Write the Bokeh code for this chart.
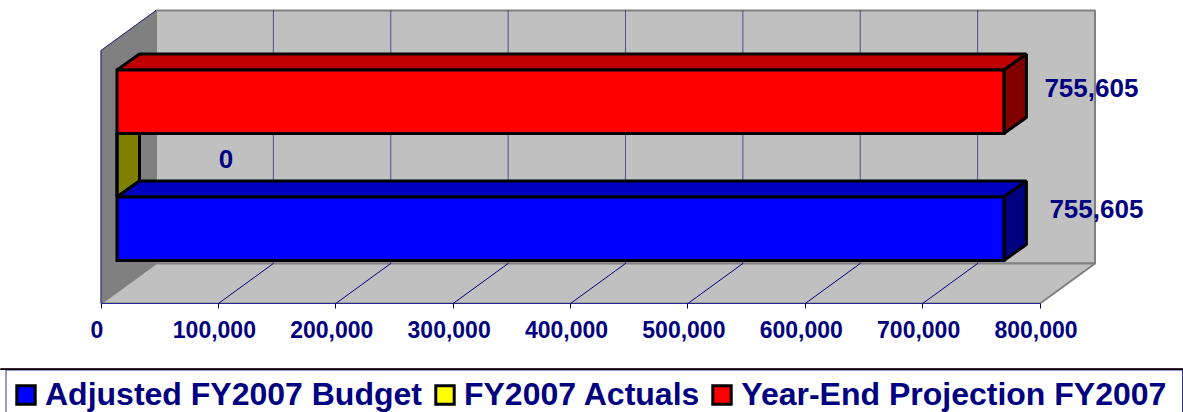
from bokeh.plotting import figure
from bokeh.layouts import column
from bokeh.models import Range1d, LinearAxis, FixedTicker, NumeralTickFormatter, Legend, LegendItem
from bokeh.core.properties import value
from bokeh.embed import file_html
from bokeh.resources import INLINE

series = ["Adjusted FY2007 Budget", "FY2007 Actuals", "Year-End Projection FY2007"]
values = [755605, 0, 755605]
labels = ["755,605", "0", "755,605"]
ticks = [0, 100000, 200000, 300000, 400000, 500000, 600000, 700000, 800000]

FONT = "Liberation Sans"
NAVY = "#000080"
PX = 1173.75 / 1000.0          # pixels per thousand of value
SLOT = 63.5                    # pixels per series slot

def dx(px):
    return px / PX * 1000.0

def dy(px):
    return px / SLOT

W, H, LEG_H = 1183, 412, 44
BOTTOM = 109 - LEG_H
X0, YB = 100.5, 260            # pixel of value 0, pixel of slot 0
p = figure(width=W, height=H - LEG_H, output_backend="svg", toolbar_location=None,
           x_axis_type=None, y_axis_type=None,
           x_range=Range1d(-dx(X0), dx(W - X0)),
           y_range=Range1d(-dy(43), dy(YB)),
           min_border_left=0, min_border_right=0, min_border_top=0, min_border_bottom=BOTTOM,
           background_fill_color="white", border_fill_color="white", outline_line_color=None)
p.grid.visible = False
p.extra_x_ranges["labels"] = Range1d(-dx(X0 - 4), dx(W - X0 + 4))

vmax = ticks[-1]
DX, DY = dx(55), dy(40)        # depth of the box
FY = -dy(43)                   # floor front
TOP = dy(YB - 50)              # front top of the wall
GREY = "#808080"

# walls
p.patch([0, DX, DX, 0], [TOP, TOP + DY, FY + DY, FY], fill_color=GREY, line_color=GREY, line_width=1)
p.patch([DX, vmax + DX, vmax + DX, DX], [TOP + DY, TOP + DY, FY + DY, FY + DY],
        fill_color="#c0c0c0", line_color=GREY, line_width=2)
p.patch([0, DX, vmax + DX, vmax], [FY, FY + DY, FY + DY, FY], fill_color="#c0c0c0", line_color=GREY, line_width=2)
p.line([0, 0, DX], [FY, TOP, TOP + DY], line_color=NAVY, line_width=1, line_alpha=0.75)

# gridlines
inner = ticks[1:-1]
p.segment([t + DX for t in inner], [FY + DY] * len(inner), [t + DX for t in inner], [TOP + DY] * len(inner),
          line_color=NAVY, line_width=1, line_alpha=0.6)
p.segment(inner, [FY] * len(inner), [t + DX for t in inner], [FY + DY] * len(inner),
          line_color=NAVY, line_width=1)

# 3D bars
FRONT = dx(16)
DBX, DBY = dx(22.5), dy(16)
face = ["#0000ff", "#ffff00", "#ff0000"]
tops = ["#0000c0", "#bfbf00", "#c00000"]
sides = ["#000080", "#808000", "#800000"]
EDGE = 3
for i in [2, 1, 0]:
    v = values[i] + FRONT
    y0, y1 = i, i + 1
    if values[i] == 0:
        # a zero-length bar shows only its end face
        p.patch([FRONT, FRONT + DBX, FRONT + DBX, FRONT], [y0, y0 + DBY, y1 + DBY, y1],
                fill_color=sides[i], line_color="black", line_width=EDGE)
    else:
        p.patch([FRONT, FRONT + DBX, v + DBX, v], [y1, y1 + DBY, y1 + DBY, y1],
                fill_color=tops[i], line_color="black", line_width=EDGE)
        p.patch([v, v + DBX, v + DBX, v], [y0, y0 + DBY, y1 + DBY, y1],
                fill_color=sides[i], line_color="black", line_width=EDGE)
for i in [0, 1, 2]:
    p.hbar(y=[i + 0.5], height=[1], left=[FRONT], right=[values[i] + FRONT],
           fill_color=face[i], line_color="black", line_width=EDGE, line_join="miter")

# value labels
off_x = [45.5, 109, 40.5]
off_y = [-20, -6.5, -14]
aligns = ["left", "center", "left"]
for i in range(3):
    p.text([values[i] + FRONT], [i + 0.5], text=[labels[i]], x_offset=off_x[i], y_offset=off_y[i],
           text_align=aligns[i], text_baseline="middle", text_color=NAVY,
           text_font=value(FONT), text_font_style="bold", text_font_size="26px")

axis = LinearAxis(ticker=FixedTicker(ticks=ticks), bounds=(0, vmax), axis_line_color=NAVY, axis_line_alpha=0.8,
                  axis_line_width=1, major_tick_line_color=NAVY, major_tick_in=0, major_tick_out=5,
                  minor_tick_line_color=None, major_label_overrides={t: "" for t in ticks},
                  major_label_text_font_size="1px", major_label_standoff=0)
p.add_layout(axis, "below")

label_axis = LinearAxis(x_range_name="labels", ticker=FixedTicker(ticks=ticks),
                        formatter=NumeralTickFormatter(format="0,0"),
                        axis_line_color=None, major_tick_line_color=None, minor_tick_line_color=None,
                        major_label_text_font=FONT, major_label_text_font_style="bold",
                        major_label_text_font_size="23px", major_label_text_color=NAVY, major_label_standoff=6)
p.add_layout(label_axis, "below")

# legend strip: its x and y ranges are the strip's own pixels
q = figure(width=W, height=LEG_H, output_backend="svg", toolbar_location=None,
           x_axis_type=None, y_axis_type=None, x_range=Range1d(0, W), y_range=Range1d(LEG_H, 0),
           min_border=0, background_fill_color="white", border_fill_color="white", outline_line_color=None)
q.grid.visible = False
q.line([5.5, 5.5, 1182, 1182], [LEG_H, 1.5, 1.5, LEG_H], line_color=NAVY, line_width=1, line_alpha=0.8)
rs = [q.hbar(y=[-50], height=[1], left=[0], right=[values[i]], fill_color=face[i], line_color="black",
             line_width=EDGE, line_join="miter") for i in range(3)]
legend = Legend(items=[LegendItem(label=series[i], renderers=[rs[i]]) for i in range(3)],
                orientation="horizontal", location=(14, -1), padding=4, margin=0, spacing=11,
                glyph_width=23, glyph_height=23, label_standoff=8,
                label_text_font=FONT, label_text_font_style="bold", label_text_font_size="32px",
                label_text_color=NAVY, border_line_color=None, background_fill_alpha=0)
q.add_layout(legend, "center")

html = file_html(column(p, q, spacing=0), INLINE)
html = html.replace("<head>", "<head><style>body{margin:0;overflow:hidden}</style>", 1)
open("out.html", "w").write(html)
